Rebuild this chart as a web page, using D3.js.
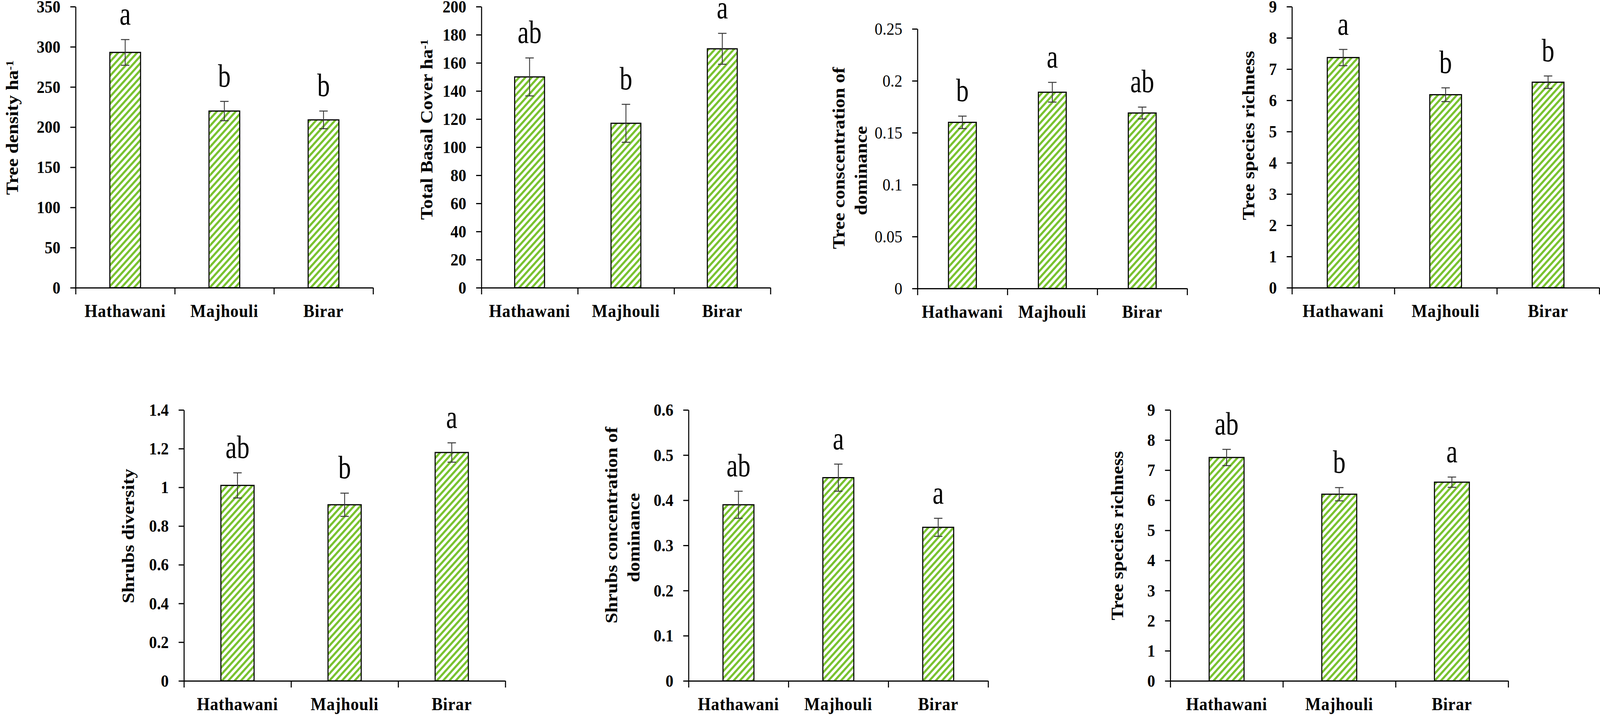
<!DOCTYPE html>
<html>
<head>
<meta charset="utf-8">
<script src="https://cdn.jsdelivr.net/npm/d3@7"></script>
<style>
  html, body { margin: 0; padding: 0; background: #fff; width: 100%; height: 100%; overflow: hidden; }
  svg { display: block; width: 100vw; height: 100vh; }
</style>
</head>
<body>
<svg id="fig" viewBox="0 0 4550 1834" preserveAspectRatio="none"></svg>
<script>
// Data
const categories = ['Hathawani', 'Majhouli', 'Birar'];

const treeDensity = [293, 220, 209];
const treeDensityErr = [16, 12, 11];
const treeDensityLetters = ['a', 'b', 'b'];

const basalCover = [150, 117, 170];
const basalCoverErr = [13.5, 13.5, 11];
const basalCoverLetters = ['ab', 'b', 'a'];

const treeDominance = [0.16, 0.189, 0.169];
const treeDominanceErr = [0.006, 0.0095, 0.0057];
const treeDominanceLetters = ['b', 'a', 'ab'];

const treeRichness = [7.37, 6.18, 6.58];
const treeRichnessErr = [0.26, 0.22, 0.2];
const treeRichnessLetters = ['a', 'b', 'b'];

const shrubDiversity = [1.01, 0.91, 1.18];
const shrubDiversityErr = [0.065, 0.06, 0.05];
const shrubDiversityLetters = ['ab', 'b', 'a'];

const shrubDominance = [0.39, 0.45, 0.34];
const shrubDominanceErr = [0.03, 0.03, 0.02];
const shrubDominanceLetters = ['ab', 'a', 'a'];

const shrubRichness = [7.42, 6.2, 6.6];
const shrubRichnessErr = [0.27, 0.22, 0.17];
const shrubRichnessLetters = ['ab', 'b', 'a'];

// Tick labels
const ticksDensity = [0, 50, 100, 150, 200, 250, 300, 350];
const ticksBasal = [0, 20, 40, 60, 80, 100, 120, 140, 160, 180, 200];
const ticksTreeDom = [0, 0.05, 0.1, 0.15, 0.2, 0.25];
const ticksRichness = [0, 1, 2, 3, 4, 5, 6, 7, 8, 9];
const ticksShrubDiv = [0, 0.2, 0.4, 0.6, 0.8, 1, 1.2, 1.4];
const ticksShrubDom = [0, 0.1, 0.2, 0.3, 0.4, 0.5, 0.6];

// Axis titles (lines)
const labelDensity = [['Tree density ha', '-1']];
const labelBasal = [['Total Basal Cover ha', '-1']];
const labelTreeDom = [['Tree conscentration of'], ['dominance']];
const labelTreeRich = [['Tree species richness']];
const labelShrubDiv = [['Shrubs diversity']];
const labelShrubDom = [['Shrubs concentration of'], ['dominance']];
const labelShrubRich = [['Tree species richness']];

// Panel layout (pixels)
const panels = [
  {values: treeDensity, errs: treeDensityErr, letters: treeDensityLetters, ticks: ticksDensity,
   label: labelDensity, x0: 215, x1: 1061, yBase: 737, yTop: 17, labelX: 35, labelY: 327, tickBold: true},
  {values: basalCover, errs: basalCoverErr, letters: basalCoverLetters, ticks: ticksBasal,
   label: labelBasal, x0: 1369, x1: 2191, yBase: 737, yTop: 17, labelX: 1214, labelY: 332, tickBold: true},
  {values: treeDominance, errs: treeDominanceErr, letters: treeDominanceLetters, ticks: ticksTreeDom,
   label: labelTreeDom, x0: 2609, x1: 3376, yBase: 739, yTop: 74, labelX: 2386, labelY: 405, tickBold: false},
  {values: treeRichness, errs: treeRichnessErr, letters: treeRichnessLetters, ticks: ticksRichness,
   label: labelTreeRich, x0: 3674, x1: 4548, yBase: 737, yTop: 17, labelX: 3551, labelY: 347, tickBold: true},
  {values: shrubDiversity, errs: shrubDiversityErr, letters: shrubDiversityLetters, ticks: ticksShrubDiv,
   label: labelShrubDiv, x0: 523, x1: 1437, yBase: 1744, yTop: 1050, labelX: 365, labelY: 1373, tickBold: true},
  {values: shrubDominance, errs: shrubDominanceErr, letters: shrubDominanceLetters, ticks: ticksShrubDom,
   label: labelShrubDom, x0: 1958, x1: 2810, yBase: 1744, yTop: 1050, labelX: 1739, labelY: 1345, tickBold: true},
  {values: shrubRichness, errs: shrubRichnessErr, letters: shrubRichnessLetters, ticks: ticksRichness,
   label: labelShrubRich, x0: 3328, x1: 4289, yBase: 1744, yTop: 1050, labelX: 3177, labelY: 1372, tickBold: true}
];

const serif = '"Liberation Serif", "Times New Roman", serif';
const svg = d3.select('#fig');

svg.append('rect').attr('width', 4550).attr('height', 1834).attr('fill', '#fff');

// diagonal green hatch
const defs = svg.append('defs');
const pat = defs.append('pattern')
  .attr('id', 'hatch')
  .attr('patternUnits', 'userSpaceOnUse')
  .attr('width', 12.7)
  .attr('height', 12.7)
  .attr('patternTransform', 'rotate(45)');
pat.append('rect').attr('width', 12.7).attr('height', 12.7).attr('fill', '#fff');
pat.append('rect').attr('x', 0).attr('width', 5.8).attr('height', 12.7).attr('fill', '#79c230');

panels.forEach(function(p) {
  let g = svg.append('g');

  let x = d3.scaleBand().domain(categories).range([p.x0, p.x1]).padding(0);
  let xEdge = d3.scaleLinear().domain([0, categories.length]).range([p.x0, p.x1]);
  let y = d3.scaleLinear().domain([0, d3.max(p.ticks)]).range([p.yBase, p.yTop]);
  let barW = x.bandwidth() * 0.31;

  // bars
  g.selectAll('rect.bar')
    .data(p.values)
    .enter()
    .append('rect')
    .attr('class', 'bar')
    .attr('x', (d, i) => x(categories[i]) + (x.bandwidth() - barW) / 2)
    .attr('y', d => y(d))
    .attr('width', barW)
    .attr('height', d => y(0) - y(d))
    .attr('fill', 'url(#hatch)')
    .attr('stroke', '#000')
    .attr('stroke-width', 3);

  // error bars
  let eb = g.selectAll('g.err')
    .data(p.values)
    .enter()
    .append('g')
    .attr('class', 'err')
    .attr('stroke', '#3a3a3a')
    .attr('stroke-width', 2.5);
  eb.append('line')
    .attr('x1', (d, i) => x(categories[i]) + x.bandwidth() / 2)
    .attr('x2', (d, i) => x(categories[i]) + x.bandwidth() / 2)
    .attr('y1', (d, i) => y(d + p.errs[i]))
    .attr('y2', (d, i) => y(d - p.errs[i]));
  [1, -1].forEach(function(s) {
    eb.append('line')
      .attr('x1', (d, i) => x(categories[i]) + x.bandwidth() / 2 - 12)
      .attr('x2', (d, i) => x(categories[i]) + x.bandwidth() / 2 + 12)
      .attr('y1', (d, i) => y(d + s * p.errs[i]))
      .attr('y2', (d, i) => y(d + s * p.errs[i]));
  });

  // significance letters
  g.selectAll('text.letter')
    .data(p.letters)
    .enter()
    .append('text')
    .attr('class', 'letter')
    .attr('transform', (d, i) => 'translate(' + (x(categories[i]) + x.bandwidth() / 2) + ',' +
      (y(p.values[i] + p.errs[i]) - 38) + ') scale(0.88,1)')
    .attr('text-anchor', 'middle')
    .style('font-family', serif)
    .style('font-size', '82px')
    .text(d => d);

  // y axis
  let yAxis = g.append('g')
    .attr('transform', 'translate(' + p.x0 + ',0)')
    .call(d3.axisLeft(y).tickValues(p.ticks).tickSize(15).tickSizeOuter(0).tickPadding(28)
      .tickFormat(d => String(+d.toFixed(2))));
  yAxis.selectAll('path, line').attr('stroke', '#000').attr('stroke-width', 3);
  yAxis.selectAll('text')
    .attr('fill', '#000')
    .style('font-family', serif)
    .style('font-size', '45px')
    .style('font-weight', p.tickBold ? 'bold' : 'normal');

  // x axis: ticks at category boundaries
  let xAxis = g.append('g')
    .attr('transform', 'translate(0,' + p.yBase + ')')
    .call(d3.axisBottom(xEdge).tickValues(d3.range(categories.length + 1)).tickSize(17)
      .tickSizeOuter(0).tickFormat(''));
  xAxis.selectAll('path, line').attr('stroke', '#000').attr('stroke-width', 3);

  // category labels
  let xLab = g.append('g')
    .attr('transform', 'translate(0,' + p.yBase + ')')
    .call(d3.axisBottom(x).tickSize(0).tickPadding(42));
  xLab.select('.domain').remove();
  xLab.selectAll('text')
    .attr('fill', '#000')
    .attr('dy', '0.71em')
    .style('font-family', serif)
    .style('font-size', '47px')
    .style('font-weight', 'bold')
    .style('letter-spacing', '1px');

  // axis title
  p.label.forEach(function(line, k) {
    let t = g.append('text')
      .attr('transform', 'translate(' + (p.labelX + k * 63) + ',' + (p.labelY + k * 32) + ') rotate(-90)')
      .attr('text-anchor', 'middle')
      .attr('dy', '0.33em')
      .style('font-family', serif)
      .style('font-size', '49px')
      .style('font-weight', 'bold');
    t.append('tspan').text(line[0]);
    if (line[1]) {
      t.append('tspan').attr('dy', '-0.45em').style('font-size', '30px').text(line[1]);
    }
  });
});
</script>
</body>
</html>
